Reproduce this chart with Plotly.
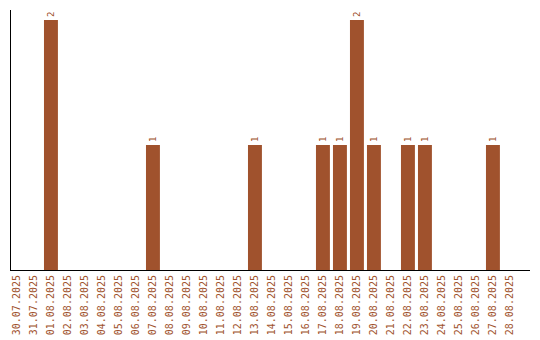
import plotly.graph_objects as go

dates = ["30.07.2025", "31.07.2025", "01.08.2025", "02.08.2025", "03.08.2025", "04.08.2025",
         "05.08.2025", "06.08.2025", "07.08.2025", "08.08.2025", "09.08.2025", "10.08.2025",
         "11.08.2025", "12.08.2025", "13.08.2025", "14.08.2025", "15.08.2025", "16.08.2025",
         "17.08.2025", "18.08.2025", "19.08.2025", "20.08.2025", "21.08.2025", "22.08.2025",
         "23.08.2025", "24.08.2025", "25.08.2025", "26.08.2025", "27.08.2025", "28.08.2025"]
counts = [0, 0, 2, 0, 0, 0, 0, 0, 1, 0, 0, 0, 0, 0, 1, 0, 0, 0, 1, 1, 2, 1, 0, 1, 1, 0, 0, 0, 1, 0]

color = "#A0522D"
labels = [str(v) if v else "" for v in counts]

fig = go.Figure(go.Bar(
    x=dates, y=counts, marker_color=color, marker_line_width=0, text=labels,
    textposition="outside", textangle=-90, cliponaxis=False,
    textfont=dict(family="DejaVu Sans Mono", size=9, color=color),
))
fig.update_layout(
    width=540, height=340, margin=dict(l=11, r=10, t=10, b=70),
    plot_bgcolor="white", paper_bgcolor="white", bargap=0.18, showlegend=False,
    font=dict(family="DejaVu Sans Mono", size=10, color=color),
)
fig.update_xaxes(type="category", range=[-0.35, 30.18], tickangle=-90, showline=True,
                 linecolor="black", linewidth=1, showgrid=False, ticks="", automargin=False,
                 tickfont=dict(family="DejaVu Sans Mono", size=10, color=color))
fig.update_yaxes(range=[0, 2.08], showline=True, linecolor="black", linewidth=1,
                 showgrid=False, showticklabels=False, ticks="", zeroline=False, automargin=False)
fig.write_html("out.html")
